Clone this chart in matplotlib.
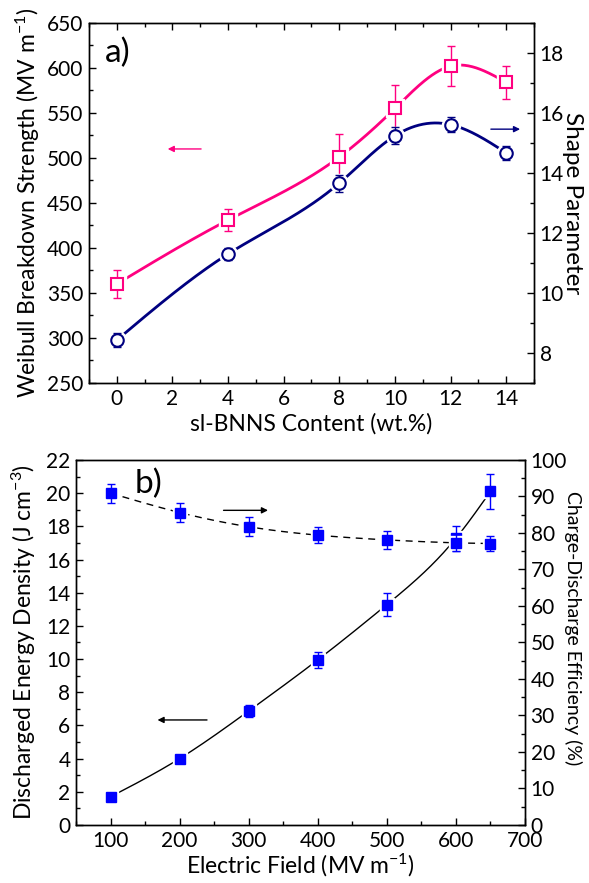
import numpy as np
import matplotlib
matplotlib.use("Agg")
import matplotlib.pyplot as plt
from matplotlib.ticker import MultipleLocator

plt.rcParams['font.family'] = ['Lato', 'DejaVu Sans']
plt.rcParams['mathtext.default'] = 'regular'

# panel a) data
content = [0, 4, 8, 10, 12, 14]
weibull = [360, 431, 501, 555, 602, 584]
weibull_err = [16, 12, 26, 26, 22, 18]
shape = [8.43, 11.3, 13.66, 15.24, 15.61, 14.67]
shape_err = [0.24, 0.2, 0.28, 0.29, 0.25, 0.23]

# panel b) data
field = [100, 200, 300, 400, 500, 600, 650]
energy = [1.7, 4.0, 6.87, 9.95, 13.28, 17.28, 20.1]
energy_err = [0.1, 0.1, 0.34, 0.47, 0.68, 0.75, 1.04]
efficiency = [90.9, 85.6, 81.7, 79.4, 78.1, 77.3, 77.1]
efficiency_err = [2.6, 2.5, 2.6, 2.2, 2.5, 2.3, 2.0]

PINK = '#FF0080'
NAVY = '#000080'
BLUE = '#0000FF'
TICK_FS = 15
LABEL_FS = 16.5


def spline(x, y, n=300):
    # natural cubic spline through the points, only used to draw the smooth line
    x = np.asarray(x, float)
    y = np.asarray(y, float)
    k = len(x)
    h = np.diff(x)
    A = np.zeros((k, k))
    b = np.zeros(k)
    A[0, 0] = A[-1, -1] = 1
    for i in range(1, k - 1):
        A[i, i - 1] = h[i - 1]
        A[i, i] = 2 * (h[i - 1] + h[i])
        A[i, i + 1] = h[i]
        b[i] = 3 * ((y[i + 1] - y[i]) / h[i] - (y[i] - y[i - 1]) / h[i - 1])
    c = np.linalg.solve(A, b)
    xs = np.linspace(x[0], x[-1], n)
    idx = np.clip(np.searchsorted(x, xs) - 1, 0, k - 2)
    dx = xs - x[idx]
    bb = (y[idx + 1] - y[idx]) / h[idx] - h[idx] * (2 * c[idx] + c[idx + 1]) / 3
    dd = (c[idx + 1] - c[idx]) / (3 * h[idx])
    ys = y[idx] + bb * dx + c[idx] * dx ** 2 + dd * dx ** 3
    return xs, ys


def style(ax):
    ax.tick_params(which='both', direction='in', labelsize=TICK_FS, width=1, pad=4)
    ax.tick_params(which='major', length=5)
    ax.tick_params(which='minor', length=3)
    for s in ax.spines.values():
        s.set_linewidth(1)


fig = plt.figure(figsize=(5.89, 8.83), dpi=100)

# ---- panel a ----
ax1 = fig.add_axes([0.1511, 0.5663, 0.7555, 0.4077])
ax2 = ax1.twinx()

xs, ys = spline(content, weibull)
ax1.plot(xs, ys, color=PINK, lw=2, zorder=1)
ax1.plot(content, weibull, 's', ms=13, mfc='white', mec='white', zorder=2)
ax1.errorbar(content, weibull, yerr=weibull_err, fmt='none', ecolor=PINK,
             elinewidth=1, capsize=3, zorder=3)
ax1.plot(content, weibull, 's', ms=9, mfc='white', mec=PINK, mew=1.5, zorder=4)

xs, ys = spline(content, shape)
ax2.plot(xs, ys, color=NAVY, lw=2, zorder=1)
ax2.plot(content, shape, 'o', ms=13, mfc='white', mec='white', zorder=2)
ax2.errorbar(content, shape, yerr=shape_err, fmt='none', ecolor=NAVY,
             elinewidth=1, capsize=3, zorder=3)
ax2.plot(content, shape, 'o', ms=9, mfc='white', mec=NAVY, mew=1.5, zorder=4)

ax1.set_xlim(-1, 15)
ax1.set_ylim(250, 650)
ax2.set_ylim(7, 19)
ax1.xaxis.set_major_locator(MultipleLocator(2))
ax1.xaxis.set_minor_locator(MultipleLocator(1))
ax1.yaxis.set_major_locator(MultipleLocator(50))
ax1.yaxis.set_minor_locator(MultipleLocator(25))
ax2.yaxis.set_major_locator(MultipleLocator(2))
ax2.yaxis.set_minor_locator(MultipleLocator(1))
style(ax1)
style(ax2)
ax1.tick_params(which='both', top=True)
ax1.set_xlabel('sl-BNNS Content (wt.%)', fontsize=LABEL_FS, labelpad=3)
ax1.set_ylabel('Weibull Breakdown Strength (MV m$^{-1}$)', fontsize=LABEL_FS, labelpad=4)
ax2.set_ylabel('Shape Parameter', fontsize=17.5, rotation=-90, va='center')
ax2.yaxis.set_label_coords(1.087, 0.5)
ax1.text(0.035, 0.96, 'a)', transform=ax1.transAxes, fontsize=24, va='top')

ax1.annotate('', xy=(1.73, 510), xytext=(3.13, 510),
             arrowprops=dict(arrowstyle='-|>', color=PINK, lw=1, mutation_scale=9))
ax2.annotate('', xy=(14.6, 15.46), xytext=(13.35, 15.46),
             arrowprops=dict(arrowstyle='-|>', color=NAVY, lw=1, mutation_scale=9))

# ---- panel b ----
ax3 = fig.add_axes([0.129, 0.0657, 0.7623, 0.4134])
ax4 = ax3.twinx()

xs, ys = spline(field, energy)
ax3.plot(xs, ys, color='black', lw=1, zorder=1)
ax3.plot(field, energy, 's', ms=10, mfc='white', mec='white', zorder=2)
ax3.errorbar(field, energy, yerr=energy_err, fmt='none', ecolor=BLUE,
             elinewidth=1, capsize=3, zorder=3)
ax3.plot(field, energy, 's', ms=6.5, color=BLUE, zorder=4)

xs, ys = spline(field, efficiency)
ax4.plot(xs, ys, color='black', lw=1, ls=(0, (5, 4)), zorder=1)
ax4.plot(field, efficiency, 's', ms=10, mfc='white', mec='white', zorder=2)
ax4.errorbar(field, efficiency, yerr=efficiency_err, fmt='none', ecolor=BLUE,
             elinewidth=1, capsize=3, zorder=3)
ax4.plot(field, efficiency, 's', ms=6.5, color=BLUE, zorder=4)

ax3.set_xlim(50, 700)
ax3.set_ylim(0, 22)
ax4.set_ylim(0, 100)
ax3.xaxis.set_major_locator(MultipleLocator(100))
ax3.xaxis.set_minor_locator(MultipleLocator(50))
ax3.yaxis.set_major_locator(MultipleLocator(2))
ax3.yaxis.set_minor_locator(MultipleLocator(1))
ax4.yaxis.set_major_locator(MultipleLocator(10))
ax4.yaxis.set_minor_locator(MultipleLocator(5))
style(ax3)
style(ax4)
ax3.set_xlabel('Electric Field (MV m$^{-1}$)', fontsize=LABEL_FS, labelpad=1)
ax3.set_ylabel('Discharged Energy Density (J cm$^{-3}$)', fontsize=LABEL_FS, labelpad=6)
ax4.set_ylabel('Charge-Discharge Efficiency (%)', fontsize=14, rotation=-90, va='center')
ax4.yaxis.set_label_coords(1.107, 0.54)
ax3.text(0.13, 0.975, 'b)', transform=ax3.transAxes, fontsize=24, va='top')

ax4.annotate('', xy=(332, 86.2), xytext=(259.6, 86.2),
             arrowprops=dict(arrowstyle='-|>', color='black', lw=1, mutation_scale=9))
ax3.annotate('', xy=(164, 6.33), xytext=(243.7, 6.33),
             arrowprops=dict(arrowstyle='-|>', color='black', lw=1, mutation_scale=9))

fig.savefig('out.png', dpi=100)
